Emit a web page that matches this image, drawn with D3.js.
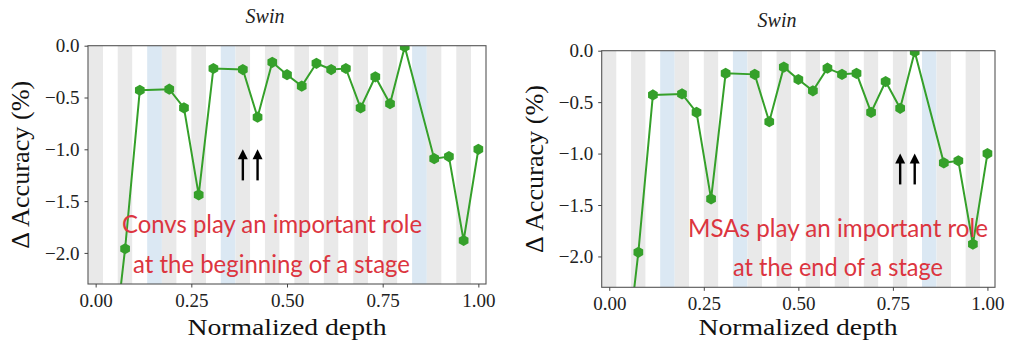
<!DOCTYPE html>
<html>
<head>
<meta charset="utf-8">
<script src="https://cdn.jsdelivr.net/npm/d3@7"></script>
<style>
  html, body { margin: 0; padding: 0; background: #fff; }
  svg { display: block; }
  .tick text { font-family: 'Liberation Serif', 'DejaVu Serif', serif; font-size: 19px; fill: #222; }
</style>
</head>
<body>
<svg id="chart" width="1024" height="350"></svg>
<script>
// Layer index along the network (27 layers incl. 3 patch-merging layers)
const layers = [0,1,2,3,4,5,6,7,8,9,10,11,12,13,14,15,16,17,18,19,20,21,22,23,24,25,26];
const lastLayer = 26;
// Background band per layer: g = grey, w = white, b = blue (downsampling)
const bandKinds = ["g","w","g","w","b","g","w","g","w","b","g","w","g","w","g","w","g","w","g","w","g","w","b","g","w","g","w"];
// Change in accuracy (%) when the layer is removed (null for downsampling layers)
const deltaAcc = [-4.6,-3.2,-1.96,-0.43,null,-0.42,-0.60,-1.44,-0.22,null,-0.23,-0.69,-0.16,-0.28,-0.39,-0.17,-0.23,-0.22,-0.60,-0.30,-0.56,-0.01,null,-1.09,-1.07,-1.88,-1.00];
const xTicks = [0, 0.25, 0.5, 0.75, 1.0];
const yTicks = [0, -0.5, -1.0, -1.5, -2.0];
const titles = ["Swin", "Swin"];
const notes = [
  ["Convs play an important role", "at the beginning of a stage"],
  ["MSAs play an important role", "at the end of a stage"]
];
const arrowLayers = [[10, 11], [20, 21]];
const arrowSpan = [-1.3, -1.0];

const panels = [
  { box: [88, 486, 45.7, 284], title: [265, 22.5], ylab: 29, xlab: [287, 335],
    noteBox: [[122, 422, 233], [133, 410, 273]] },
  { box: [601.7, 995, 50.7, 287.3], title: [777, 27], ylab: 543, xlab: [798, 335],
    noteBox: [[688, 988, 236.5], [733, 943, 276]] }
];

const svg = d3.select("#chart");
const serif = "'Liberation Serif', 'DejaVu Serif', serif";
const green = "#35a02a";
const bandColor = { g: "#e9e9e9", w: "#ffffff", b: "#dbe8f3" };

const hexagon = r => {
  const pts = d3.range(6).map(k => {
    const a = Math.PI / 2 + k * Math.PI / 3;
    return [r * Math.cos(a), r * Math.sin(a)];
  });
  return "M" + pts.map(p => p.join(",")).join("L") + "Z";
};

panels.forEach((p, pi) => {
  const [x0, x1, y0, y1] = p.box;
  const depth = d3.scaleLinear().domain([0, lastLayer]).range([0, 1]);
  const x = d3.scaleLinear().domain([-0.02, 1.02]).range([x0, x1]);
  const y = d3.scaleLinear().domain([-2.3, 0]).range([y1, y0]);
  const halfBand = (x(depth(1)) - x(depth(0))) / 2;

  const g = svg.append("g");
  const clipId = "clip" + pi;
  g.append("clipPath").attr("id", clipId)
    .append("rect").attr("x", x0).attr("y", y0).attr("width", x1 - x0).attr("height", y1 - y0);

  // layer bands
  g.append("g").attr("clip-path", `url(#${clipId})`)
    .selectAll("rect").data(layers).join("rect")
    .attr("x", d => x(depth(d)) - halfBand)
    .attr("width", halfBand * 2)
    .attr("y", y0).attr("height", y1 - y0)
    .attr("fill", d => bandColor[bandKinds[d]]);

  // data line and markers
  const pts = layers.filter(d => deltaAcc[d] !== null);
  const line = d3.line().x(d => x(depth(d))).y(d => y(deltaAcc[d]));
  const dg = g.append("g").attr("clip-path", `url(#${clipId})`);
  dg.append("path").datum(pts).attr("d", line)
    .attr("fill", "none").attr("stroke", green).attr("stroke-width", 2);
  dg.selectAll("path.m").data(pts).join("path").attr("class", "m")
    .attr("d", hexagon(5.6))
    .attr("transform", d => `translate(${x(depth(d))},${y(deltaAcc[d])})`)
    .attr("fill", green);

  // frame
  g.append("rect").attr("x", x0).attr("y", y0).attr("width", x1 - x0).attr("height", y1 - y0)
    .attr("fill", "none").attr("stroke", "#555").attr("stroke-width", 1.1);

  // axes
  const xa = g.append("g").attr("transform", `translate(0,${y1})`)
    .call(d3.axisBottom(x).tickValues(xTicks).tickFormat(d3.format(".2f")).tickSize(3.5).tickPadding(6));
  const yax = g.append("g").attr("transform", `translate(${x0},0)`)
    .call(d3.axisLeft(y).tickValues(yTicks).tickFormat(d3.format(".1f")).tickSize(3.5).tickPadding(5));
  [xa, yax].forEach(a => {
    a.attr("font-family", null).attr("font-size", null);
    a.select(".domain").remove();
    a.selectAll(".tick line").attr("stroke", "#444").attr("stroke-width", 1);
  });

  // arrows
  const ah = 10, aw = 5;
  arrowLayers[pi].forEach(l => {
    const ax = x(depth(l)), yb = y(arrowSpan[0]), yt = y(arrowSpan[1]);
    g.append("line").attr("x1", ax).attr("x2", ax).attr("y1", yb).attr("y2", yt + ah - 1)
      .attr("stroke", "#000").attr("stroke-width", 2.4);
    g.append("path")
      .attr("d", `M${ax},${yt}L${ax - aw},${yt + ah}L${ax + aw},${yt + ah}Z`)
      .attr("fill", "#000");
  });

  // title
  svg.append("text").attr("x", p.title[0]).attr("y", p.title[1])
    .attr("text-anchor", "middle").attr("font-family", serif).attr("font-style", "italic")
    .attr("font-size", 20).attr("fill", "#222").text(titles[pi]);

  // axis labels
  svg.append("text")
    .attr("transform", `translate(${p.ylab},${(y0 + y1) / 2}) rotate(-90)`)
    .attr("text-anchor", "middle").attr("font-family", serif).attr("font-size", 25)
    .attr("textLength", 168).attr("lengthAdjust", "spacingAndGlyphs")
    .attr("fill", "#111").text("Δ Accuracy (%)");
  svg.append("text").attr("x", p.xlab[0]).attr("y", p.xlab[1])
    .attr("text-anchor", "middle").attr("font-family", serif).attr("font-size", 24)
    .attr("textLength", 199).attr("lengthAdjust", "spacingAndGlyphs")
    .attr("fill", "#111").text("Normalized depth");

  // annotation
  notes[pi].forEach((t, k) => {
    const [nx0, nx1, nb] = p.noteBox[k];
    svg.append("text").attr("x", nx0).attr("y", nb)
      .attr("font-family", "Lato, 'Open Sans', sans-serif").attr("font-size", 25)
      .attr("textLength", nx1 - nx0).attr("lengthAdjust", "spacingAndGlyphs")
      .attr("fill", "#dc3540").text(t);
  });
});
</script>
</body>
</html>
